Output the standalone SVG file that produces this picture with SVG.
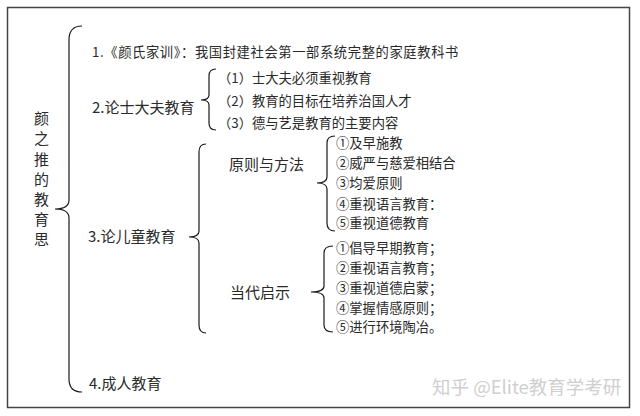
<svg xmlns="http://www.w3.org/2000/svg" width="640" height="416" viewBox="0 0 640 416">
<style>
.h{font-family:"Noto Sans CJK SC","Noto Sans",sans-serif;font-size:15px;fill:#2a2a2a}
.i{font-family:"Noto Sans CJK SC","Noto Sans",sans-serif;font-size:13.3px;fill:#2a2a2a}
.b{fill:none;stroke:#1a1a1a;stroke-width:1.2}
.w{font-family:"Noto Sans CJK SC","Noto Sans",sans-serif;font-size:18.5px;fill:#cfcfcf}
</style>
<rect x="0" y="0" width="640" height="416" fill="#ffffff"/>
<rect x="7.5" y="7.5" width="622" height="400" fill="none" stroke="#444" stroke-width="1.5"/>
<g id="connectors">
<path class="b" d="M82,26 Q69,26 69,40 L69,200 Q69,209 55,209 Q69,209 69,218 L69,379 Q69,392 82,392"/>
<path class="b" d="M216,69 Q209,69 209,76 L209,95 Q209,100 201,100 Q209,100 209,105 L209,123 Q209,130 216,130"/>
<path class="b" d="M206,144 Q199,144 199,152 L199,231 Q199,237 189,237 Q199,237 199,243 L199,325 Q199,333 206,333"/>
<path class="b" d="M335,136 Q327,136 327,143 L327,177 Q327,183 317,183 Q327,183 327,189 L327,223 Q327,231 335,231"/>
<path class="b" d="M333,246 Q324,246 324,253 L324,286 Q324,292 311,292 Q324,292 324,298 L324,325 Q324,332 333,332"/>
</g>
<g id="root"><text class="h"><tspan x="34" y="124">颜</tspan><tspan x="34" y="144">之</tspan><tspan x="34" y="165">推</tspan><tspan x="34" y="185">的</tspan><tspan x="34" y="205">教</tspan><tspan x="34" y="225">育</tspan><tspan x="34" y="245">思</tspan></text></g>
<g id="n1"><text class="i" x="92" y="57" letter-spacing="0.6">1.《颜氏家训》：我国封建社会第一部系统完整的家庭教科书</text></g>
<g id="n2"><text class="h" x="92" y="113">2.论士大夫教育</text></g>
<g id="n2a"><text class="i" x="218" y="83">（1）士大夫必须重视教育</text></g>
<g id="n2b"><text class="i" x="218" y="106">（2）教育的目标在培养治国人才</text></g>
<g id="n2c"><text class="i" x="218" y="128">（3）德与艺是教育的主要内容</text></g>
<g id="n3"><text class="h" x="88" y="242">3.论儿童教育</text></g>
<g id="n3a"><text class="h" x="229" y="170">原则与方法</text></g>
<g id="n3a-items"><text class="i"><tspan x="336" y="148">①及早施教</tspan><tspan x="336" y="168">②威严与慈爱相结合</tspan><tspan x="336" y="188">③均爱原则</tspan><tspan x="336" y="209">④重视语言教育：</tspan><tspan x="336" y="228">⑤重视道德教育</tspan></text></g>
<g id="n3b"><text class="h" x="230" y="298">当代启示</text></g>
<g id="n3b-items"><text class="i"><tspan x="336" y="253">①倡导早期教育；</tspan><tspan x="336" y="273">②重视语言教育；</tspan><tspan x="336" y="293">③重视道德启蒙；</tspan><tspan x="336" y="313">④掌握情感原则；</tspan><tspan x="336" y="332">⑤进行环境陶冶。</tspan></text></g>
<g id="n4"><text class="h" x="89" y="389">4.成人教育</text></g>
<text class="w" x="432" y="394">知乎 @Elite教育学考研</text>
</svg>
